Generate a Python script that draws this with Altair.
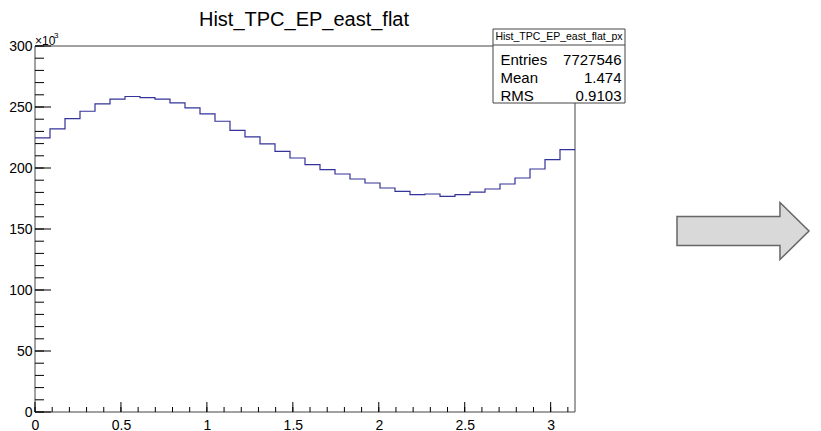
import altair as alt
import pandas as pd
import numpy as np

# ---------------- data ----------------
title_text = "Hist_TPC_EP_east_flat"
stat_title = "Hist_TPC_EP_east_flat_px"
stat_names = ["Entries", "Mean", "RMS"]
stat_values = ["7727546", "1.474", "0.9103"]
exp_label = "×10"
exp_power = "3"

# bin contents (in units of 10^3), 36 bins over [0, pi]
counts_k = [224.7, 232.0, 240.5, 246.5, 252.5, 256.4, 258.6, 257.7, 256.4, 253.4,
            249.3, 244.3, 238.3, 230.9, 225.5, 219.7, 213.7, 208.2, 202.7, 198.6,
            195.1, 191.0, 187.7, 183.6, 180.8, 178.1, 178.7, 176.8, 178.1, 180.3,
            182.8, 186.9, 191.8, 199.2, 206.8, 215.0]
x_lo, x_hi = 0.0, float(np.pi)
n_bins = len(counts_k)

x_major = [0, 0.5, 1, 1.5, 2, 2.5, 3]
x_minor = [round(0.1 * i, 1) for i in range(0, 32)]
y_major = [0, 50, 100, 150, 200, 250, 300]
y_minor = list(range(0, 301, 10))

# ---------------- layout ----------------
W, H = 540, 366
FONT = "Liberation Sans"
HIST_COLOR = "#333399"
FRAME = "#444444"

edges = [x_lo + (x_hi - x_lo) * i / n_bins for i in range(n_bins + 1)]
hist_df = pd.DataFrame({"x": edges, "y": counts_k + [counts_k[-1]]})

xs = alt.Scale(domain=[x_lo, x_hi], nice=False, zero=False)
ys = alt.Scale(domain=[0, 300], nice=False)

x_axis = alt.Axis(values=x_major, ticks=False, tickSize=0, domain=False, grid=False,
                  labelFont=FONT, labelFontSize=14, labelColor="black", format="~g",
                  labelPadding=6, title=None, labelFlush=False, labelOverlap=False)
y_axis = alt.Axis(values=y_major, ticks=False, tickSize=0, domain=False, grid=False,
                  labelFont=FONT, labelFontSize=14, labelColor="black",
                  labelPadding=3, title=None, labelFlush=False, labelOverlap=False,
                  format="d")

one = pd.DataFrame({"a": [0]})

frame = alt.Chart(one).mark_rect(fill="white", fillOpacity=0, stroke=FRAME, strokeWidth=1).encode(
    x=alt.value(0), x2=alt.value(W), y=alt.value(0), y2=alt.value(H))

hist = alt.Chart(hist_df).mark_line(interpolate="step-after", color=HIST_COLOR, strokeWidth=1.2).encode(
    x=alt.X("x:Q", scale=xs, axis=x_axis),
    y=alt.Y("y:Q", scale=ys, axis=y_axis),
)

ymaj = alt.Chart(pd.DataFrame({"y": y_major})).mark_rule(color="black", strokeWidth=1).encode(
    y=alt.Y("y:Q", scale=ys, axis=y_axis), x=alt.value(0), x2=alt.value(16))
ymin = alt.Chart(pd.DataFrame({"y": y_minor})).mark_rule(color="black", strokeWidth=1).encode(
    y=alt.Y("y:Q", scale=ys, axis=y_axis), x=alt.value(0), x2=alt.value(9))
xmaj = alt.Chart(pd.DataFrame({"x": x_major})).mark_rule(color="black", strokeWidth=1).encode(
    x=alt.X("x:Q", scale=xs, axis=x_axis), y=alt.value(H), y2=alt.value(H - 10))
xmin = alt.Chart(pd.DataFrame({"x": x_minor})).mark_rule(color="black", strokeWidth=1).encode(
    x=alt.X("x:Q", scale=xs, axis=x_axis), y=alt.value(H), y2=alt.value(H - 5))

title = alt.Chart(pd.DataFrame({"t": [title_text]})).mark_text(
    font=FONT, fontSize=20, color="black", align="center", baseline="alphabetic").encode(
    text="t:N", x=alt.value(269), y=alt.value(-20.5))

exp1 = alt.Chart(pd.DataFrame({"t": [exp_label]})).mark_text(
    font=FONT, fontSize=12, color="black", align="left", baseline="alphabetic").encode(
    text="t:N", x=alt.value(0), y=alt.value(-1))
exp2 = alt.Chart(pd.DataFrame({"t": [exp_power]})).mark_text(
    font=FONT, fontSize=8, color="black", align="left", baseline="alphabetic").encode(
    text="t:N", x=alt.value(19), y=alt.value(-8))

# stat box
bx0, bx1, by0, by1 = 458, 590, -17, 57
box = alt.Chart(one).mark_rect(fill="white", stroke=FRAME, strokeWidth=1).encode(
    x=alt.value(bx0), x2=alt.value(bx1), y=alt.value(by0), y2=alt.value(by1))
sep = alt.Chart(one).mark_rule(color=FRAME, strokeWidth=1).encode(
    x=alt.value(bx0), x2=alt.value(bx1), y=alt.value(-1))
box_title = alt.Chart(pd.DataFrame({"t": [stat_title]})).mark_text(
    font=FONT, fontSize=10.5, color="black", align="center", baseline="middle").encode(
    text="t:N", x=alt.value((bx0 + bx1) / 2), y=alt.value(-9))

row_layers = []
row_y = [13.5, 31.5, 49.5]
for name, val, ry in zip(stat_names, stat_values, row_y):
    row_layers.append(alt.Chart(pd.DataFrame({"t": [name]})).mark_text(
        font=FONT, fontSize=15, color="black", align="left", baseline="middle").encode(
        text="t:N", x=alt.value(465.5), y=alt.value(ry)))
    row_layers.append(alt.Chart(pd.DataFrame({"t": [val]})).mark_text(
        font=FONT, fontSize=15, color="black", align="right", baseline="middle").encode(
        text="t:N", x=alt.value(586.5), y=alt.value(ry)))

# decorative arrow to the right of the canvas (tip kept inside the drawing area)
arrow_path = "M-1,-0.22L0.56,-0.22L0.56,-0.433L1,0L0.56,0.433L0.56,0.22L-1,0.22Z"
arrow = alt.Chart(one).mark_point(shape=arrow_path, size=132 * 132, filled=True, fill="#d9d9d9",
                                  stroke="#666666", strokeWidth=1.5, opacity=1).encode(
    x=alt.value(708), y=alt.value(185))

chart = alt.layer(frame, hist, ymaj, ymin, xmaj, xmin, title, exp1, exp2,
                  box, sep, box_title, *row_layers, arrow).properties(
    width=W, height=H,
    padding={"left": 27, "top": 38, "right": 238, "bottom": 22},
    autosize="none",
    background="white",
).configure_view(stroke="transparent")

chart.save("out.html", embed_options={"renderer": "svg", "actions": False})
